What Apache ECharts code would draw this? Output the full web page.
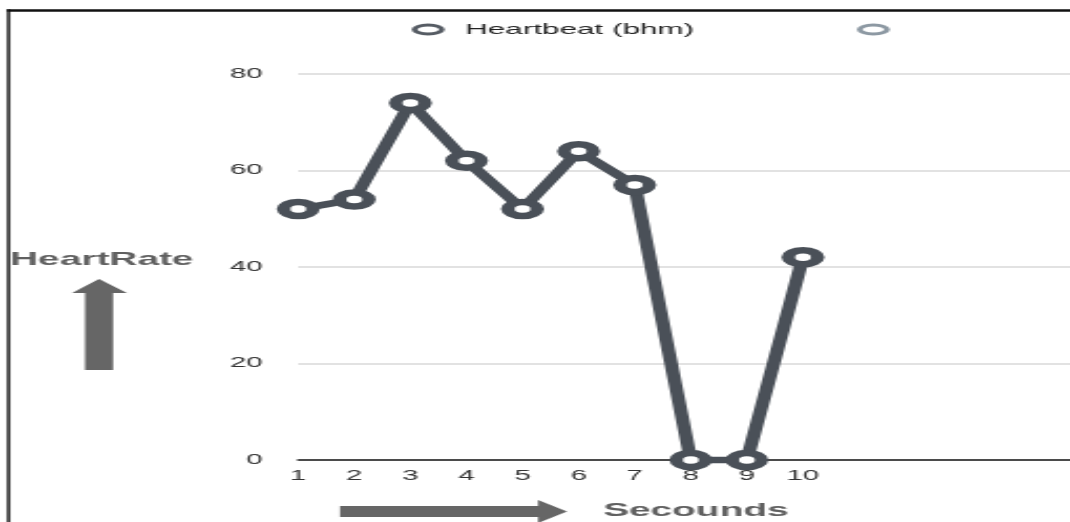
<!DOCTYPE html>
<html>
<head>
<meta charset="utf-8">
<script src="https://cdn.jsdelivr.net/npm/echarts@6/dist/echarts.min.js"></script>
<style>
html,body{margin:0;padding:0;background:#fff;overflow:hidden;width:1070px;height:522px;}
#chart{width:510px;height:522px;transform:scaleX(2.1);transform-origin:0 0;}
</style>
</head>
<body>
<div id="chart"></div>
<script>
// Data
var seconds = [1, 2, 3, 4, 5, 6, 7, 8, 9, 10];
var heartbeat = [52, 54, 74, 62, 52, 64, 57, 0, 0, 42];
var xTickLabels = ['1', '2', '3', '4', '5', '6', '7', '8', '9', '10'];
var yTickLabels = ['0', '20', '40', '60', '80'];
var seriesNames = ['Heartbeat (bhm)', ' '];
var yAxisTitle = 'HeartRate';
var xAxisTitle = 'Secounds';

var S = 2.1; // horizontal stretch of the reference
var FONT = 'Liberation Sans, Arial, Helvetica, sans-serif';
var lineColor = '#4a5058';
var ellipseIcon = 'path://M0,4.5A6.5,4.5 0 1,0 13,4.5A6.5,4.5 0 1,0 0,4.5Z';

var chart = echarts.init(document.getElementById('chart'));
var option = {
  animation: false,
  backgroundColor: '#fff',
  grid: { left: 142, right: 0, top: 74, bottom: 62, outerBoundsMode: 'none' },
  legend: [
    {
      left: 196, top: 22, padding: 0, itemWidth: 13, itemHeight: 9, icon: ellipseIcon,
      textStyle: { fontFamily: FONT, fontSize: 15, color: '#222', padding: [0, 0, 0, 6] },
      data: [{ name: seriesNames[0], itemStyle: { color: '#fff', borderColor: '#565c64', borderWidth: 2.8 } }]
    },
    {
      left: 408, top: 22, padding: 0, itemWidth: 13, itemHeight: 9, icon: ellipseIcon,
      textStyle: { fontFamily: FONT, fontSize: 15, color: '#222' },
      data: [{ name: seriesNames[1], itemStyle: { color: '#fff', borderColor: '#8d99a3', borderWidth: 2.8 } }]
    }
  ],
  xAxis: {
    type: 'value', min: 1, max: 14.78, interval: 1,
    axisLine: { show: true, lineStyle: { color: '#1a1a1a', width: 1.5 } },
    axisTick: { show: false },
    splitLine: { show: false },
    axisLabel: {
      margin: 9, fontFamily: FONT, fontSize: 14, color: '#333',
      showMaxLabel: false,
      formatter: function (v) {
        var i = seconds.indexOf(v);
        return i >= 0 ? xTickLabels[i] : '';
      }
    }
  },
  yAxis: {
    type: 'value', min: 0, max: 80, interval: 20,
    axisLine: { show: false },
    axisTick: { show: false },
    splitLine: { lineStyle: { color: '#e2e2e2', width: 2 } },
    axisLabel: {
      margin: 17, fontFamily: FONT, fontSize: 14, color: '#333',
      formatter: function (v) { return yTickLabels[v / 20]; }
    }
  },
  series: [
    {
      name: seriesNames[0], type: 'line', clip: false,
      data: seconds.map(function (s, i) { return [s, heartbeat[i]]; }),
      symbol: 'circle', symbolSize: 14, showAllSymbol: true,
      lineStyle: { color: lineColor, width: 6.5 },
      itemStyle: { color: '#fff', borderColor: lineColor, borderWidth: 6.5 },
      z: 3
    },
    {
      name: seriesNames[1], type: 'line', data: [],
      itemStyle: { color: '#fff', borderColor: '#8d99a3' }
    }
  ],
  graphic: [
    // frame lines (top and left)
    { type: 'rect', shape: { x: 7 / S, y: 9.3, width: 600, height: 2.4 }, style: { fill: '#111' }, silent: true },
    { type: 'rect', shape: { x: 7 / S, y: 9.3, width: 3 / S, height: 600 }, style: { fill: '#111' }, silent: true },
    // y-axis title and arrow
    { type: 'text', left: 10 / S, top: 250, style: { text: yAxisTitle, fontFamily: FONT, fontSize: 18.5, fontWeight: 'bold', fill: '#606060' } },
    { type: 'polygon', shape: { points: [[99 / S, 279], [127 / S, 293], [113 / S, 293], [113 / S, 370], [85 / S, 370], [85 / S, 293], [72 / S, 293]] }, style: { fill: '#666' }, silent: true },
    // x-axis title and arrow
    { type: 'text', left: 603 / S, top: 501, style: { text: xAxisTitle, fontFamily: FONT, fontSize: 18.5, fontWeight: 'bold', fill: '#606060' } },
    { type: 'polygon', shape: { points: [[340 / S, 506], [538 / S, 506], [538 / S, 500], [567 / S, 511.5], [538 / S, 523], [538 / S, 517], [340 / S, 517]] }, style: { fill: '#666' }, silent: true }
  ]
};
chart.setOption(option);
</script>
</body>
</html>
